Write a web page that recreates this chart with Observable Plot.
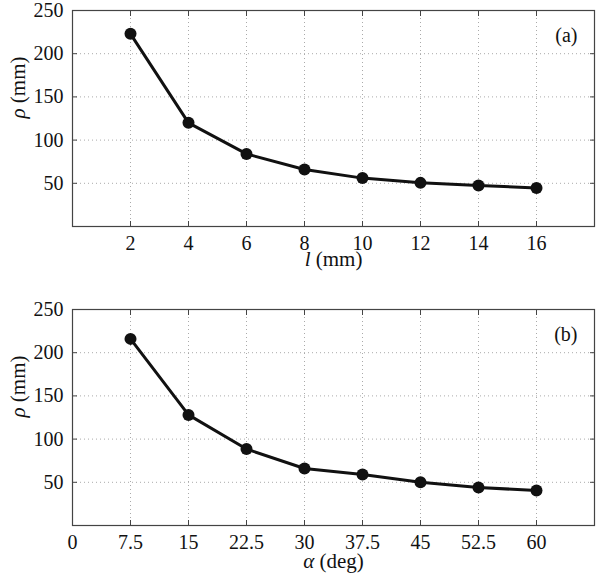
<!DOCTYPE html>
<html>
<head>
<meta charset="utf-8">
<script src="https://cdn.jsdelivr.net/npm/d3@7"></script>
<script src="https://cdn.jsdelivr.net/npm/@observablehq/plot@0.6"></script>
<style>
  html, body { margin: 0; padding: 0; background: #fff; }
  #chart svg { display: block; }
</style>
</head>
<body>
<div id="chart"></div>
<script>
// Panel (a): radius vs length l
const lengths = [2, 4, 6, 8, 10, 12, 14, 16];
const rhoByLength = [223, 120, 84, 66, 56, 50.5, 47.5, 44.5];
const lengthTicks = [2, 4, 6, 8, 10, 12, 14, 16];

// Panel (b): radius vs angle alpha
const angles = [7.5, 15, 22.5, 30, 37.5, 45, 52.5, 60];
const rhoByAngle = [216, 128, 88.5, 66, 59, 50, 44, 40.5];
const angleTicks = [0, 7.5, 15, 22.5, 30, 37.5, 45, 52.5, 60];

const rhoTicks = [50, 100, 150, 200, 250];

const FRAME = "#444";
const GRID = "#aaa";
const FONT = "Liberation Serif";

function panel({xs, ys, xDomain, xTicks, height, marginTop, marginBottom, tag, xLabel, xLabelDy}) {
  const data = xs.map((x, i) => ({x, y: ys[i]}));
  const gridXs = xTicks.filter(t => t > xDomain[0] && t < xDomain[1]);
  const blank = () => "";
  return Plot.plot({
    width: 601,
    height,
    marginLeft: 72,
    marginRight: 7,
    marginTop,
    marginBottom,
    style: `font-family: '${FONT}'; font-size: 20px; background: #fff; color: #111;`,
    x: {domain: xDomain},
    y: {domain: [0, 250]},
    marks: [
      Plot.gridX(gridXs, {stroke: GRID, strokeOpacity: 1, strokeDasharray: "1,3"}),
      Plot.gridY(rhoTicks.filter(t => t < 250), {stroke: GRID, strokeOpacity: 1, strokeDasharray: "1,3"}),
      // inward ticks on all four sides
      Plot.axisX(xTicks, {anchor: "bottom", tickSize: 5, dy: -5, stroke: FRAME, tickFormat: blank, label: null}),
      Plot.axisX(xTicks, {anchor: "top", tickSize: 5, dy: 5, stroke: FRAME, tickFormat: blank, label: null}),
      Plot.axisY(rhoTicks, {anchor: "left", tickSize: 5, dx: 5, stroke: FRAME, tickFormat: blank, label: null}),
      Plot.axisY(rhoTicks, {anchor: "right", tickSize: 5, dx: -5, stroke: FRAME, tickFormat: blank, label: null}),
      // tick labels
      Plot.axisX(xTicks, {anchor: "bottom", tickSize: 0, tickPadding: 9, label: null, fill: "#111", fontSize: 20, tickFormat: d => String(d)}),
      Plot.axisY(rhoTicks, {anchor: "left", tickSize: 0, tickPadding: 9, label: null, fill: "#111", fontSize: 20, tickFormat: d => String(d)}),
      Plot.frame({stroke: FRAME, strokeWidth: 1.2}),
      Plot.line(data, {x: "x", y: "y", stroke: "#111", strokeWidth: 3}),
      Plot.dot(data, {x: "x", y: "y", r: 6, fill: "#111", stroke: "none"}),
      Plot.text([tag], {frameAnchor: "top-right", dx: -17, dy: 17, lineAnchor: "top", textAnchor: "end", fontSize: 20, fill: "#111"}),
      Plot.text(["ρ (mm)"], {frameAnchor: "left", dx: -54, rotate: -90, fontSize: 21, fill: "#111"}),
      Plot.text([xLabel], {frameAnchor: "bottom", dy: xLabelDy, fontSize: 21, fill: "#111"})
    ]
  });
}

const panelA = panel({
  xs: lengths, ys: rhoByLength, xDomain: [0, 18], xTicks: lengthTicks,
  height: 290, marginTop: 10, marginBottom: 64, tag: "(a)", xLabel: "l (mm)", xLabelDy: 39
});
const panelB = panel({
  xs: angles, ys: rhoByAngle, xDomain: [0, 67.5], xTicks: angleTicks,
  height: 289, marginTop: 19, marginBottom: 54, tag: "(b)", xLabel: "α (deg)", xLabelDy: 42
});

const chart = document.getElementById("chart");
chart.append(panelA, panelB);

// serif font on every text; italicise the symbols in the axis labels
const italicize = {"ρ (mm)": "ρ", "l (mm)": "l", "α (deg)": "α"};
chart.querySelectorAll("text").forEach(t => {
  t.style.fontFamily = `'${FONT}'`;
  const s = t.textContent;
  if (italicize[s]) {
    const sym = italicize[s];
    const rest = s.slice(sym.length);
    t.textContent = "";
    const ts = document.createElementNS("http://www.w3.org/2000/svg", "tspan");
    ts.setAttribute("font-style", "italic");
    ts.textContent = sym;
    t.appendChild(ts);
    t.appendChild(document.createTextNode(rest));
  }
});
</script>
</body>
</html>
